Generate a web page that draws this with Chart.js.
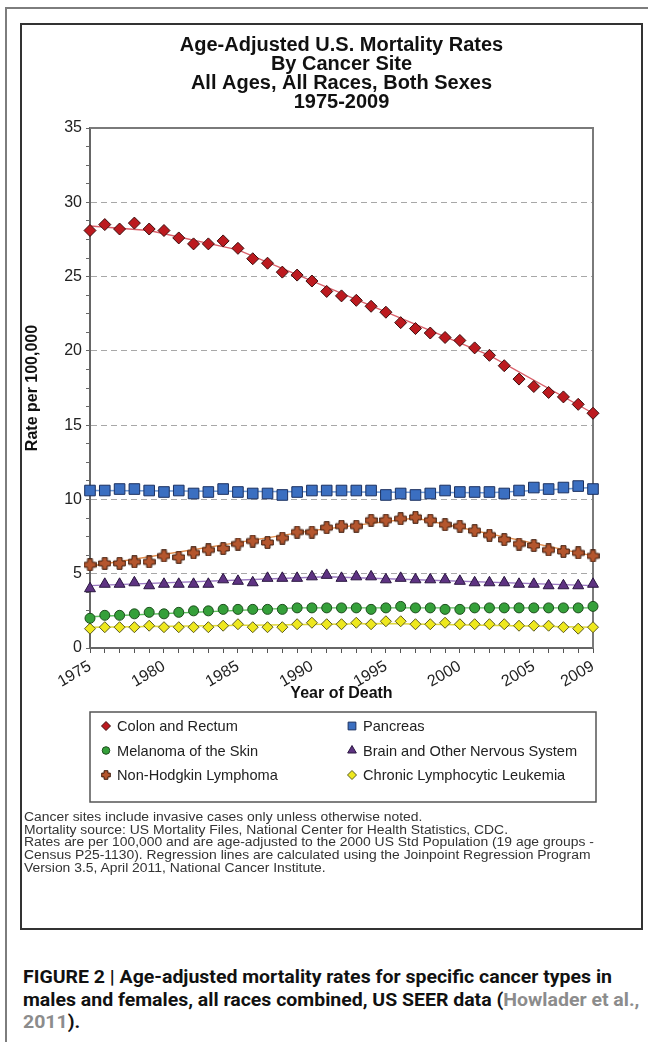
<!DOCTYPE html>
<html>
<head>
<meta charset="utf-8">
<script src="https://cdn.jsdelivr.net/npm/chart.js@4.4.1/dist/chart.umd.min.js"></script>
<style>
  html, body { margin: 0; padding: 0; background: #fff; width: 648px; height: 1042px; overflow: hidden; }
  #page { position: relative; width: 648px; height: 1042px; }
  #outer { position: absolute; left: 5px; top: 7px; width: 720px; height: 1120px; border: 2px solid #7d7d7d; box-sizing: border-box; }
  #panel { position: absolute; left: 20px; top: 23px; width: 623px; height: 907px; border: 2px solid #333; box-sizing: border-box; }
  #wrap { position: absolute; left: 0; top: 0; width: 648px; height: 930px; }
  #notes { position: absolute; left: 24px; top: 811px; font: 12.5px "Liberation Sans", Arial, sans-serif; line-height: 12.7px;
           color: #333; white-space: nowrap; transform-origin: 0 0; }
  #caption { position: absolute; left: 23px; top: 966px; font: bold 18px Roboto, "Liberation Sans", Arial, sans-serif;
             line-height: 22.5px; color: #111; white-space: nowrap; transform-origin: 0 0; }
  #caption .ref { color: #8c8c8c; }
</style>
</head>
<body>
<div id="page">
  <div id="outer"></div>
  <div id="panel"></div>
  <div id="wrap"><canvas id="chart"></canvas></div>
  <div id="notes">
    <div>Cancer sites include invasive cases only unless otherwise noted.</div>
    <div id="noteWide">Mortality source: US Mortality Files, National Center for Health Statistics, CDC.</div>
    <div>Rates are per 100,000 and are age-adjusted to the 2000 US Std Population (19 age groups -</div>
    <div>Census P25-1130). Regression lines are calculated using the Joinpoint Regression Program</div>
    <div>Version 3.5, April 2011, National Cancer Institute.</div>
  </div>
  <div id="caption">
    <div id="capFirst">FIGURE 2 | Age-adjusted mortality rates for specific cancer types in</div>
    <div>males and females, all races combined, US SEER data (<span class="ref">Howlader et al.,</span></div>
    <div><span class="ref">2011</span>).</div>
  </div>
</div>
<script>
// Years of death and rates per 100,000 (age-adjusted)
const years = [1975, 1976, 1977, 1978, 1979, 1980, 1981, 1982, 1983, 1984, 1985, 1986,
               1987, 1988, 1989, 1990, 1991, 1992, 1993, 1994, 1995, 1996, 1997, 1998,
               1999, 2000, 2001, 2002, 2003, 2004, 2005, 2006, 2007, 2008, 2009];
const xTickYears = [1975, 1980, 1985, 1990, 1995, 2000, 2005, 2009];
const yTickValues = [0, 5, 10, 15, 20, 25, 30, 35];

const colonRectum = [28.1, 28.5, 28.2, 28.6, 28.2, 28.1, 27.6, 27.2, 27.2, 27.4, 26.9, 26.2,
                     25.9, 25.3, 25.1, 24.7, 24.0, 23.7, 23.4, 23.0, 22.6, 21.9, 21.5, 21.2,
                     20.9, 20.7, 20.2, 19.7, 19.0, 18.1, 17.6, 17.2, 16.9, 16.4, 15.8];
const pancreas = [10.6, 10.6, 10.7, 10.7, 10.6, 10.5, 10.6, 10.4, 10.5, 10.7, 10.5, 10.4,
                  10.4, 10.3, 10.5, 10.6, 10.6, 10.6, 10.6, 10.6, 10.3, 10.4, 10.3, 10.4,
                  10.6, 10.5, 10.5, 10.5, 10.4, 10.6, 10.8, 10.7, 10.8, 10.9, 10.7];
const melanoma = [2.0, 2.2, 2.2, 2.3, 2.4, 2.3, 2.4, 2.5, 2.5, 2.6, 2.6, 2.6,
                  2.6, 2.6, 2.7, 2.7, 2.7, 2.7, 2.7, 2.6, 2.7, 2.8, 2.7, 2.7,
                  2.6, 2.6, 2.7, 2.7, 2.7, 2.7, 2.7, 2.7, 2.7, 2.7, 2.8];
const brainNervous = [4.0, 4.3, 4.3, 4.4, 4.2, 4.3, 4.3, 4.3, 4.3, 4.6, 4.5, 4.4,
                      4.7, 4.7, 4.7, 4.8, 4.9, 4.7, 4.8, 4.8, 4.6, 4.7, 4.6, 4.6,
                      4.6, 4.5, 4.4, 4.4, 4.4, 4.3, 4.3, 4.2, 4.2, 4.2, 4.3];
const nonHodgkin = [5.6, 5.7, 5.7, 5.8, 5.8, 6.2, 6.1, 6.4, 6.6, 6.7, 7.0, 7.2,
                    7.1, 7.4, 7.8, 7.8, 8.1, 8.2, 8.2, 8.6, 8.6, 8.7, 8.8, 8.6,
                    8.3, 8.2, 7.9, 7.6, 7.3, 7.0, 6.9, 6.6, 6.5, 6.4, 6.2];
const chronicLL = [1.3, 1.4, 1.4, 1.4, 1.5, 1.4, 1.4, 1.4, 1.4, 1.5, 1.6, 1.4,
                   1.4, 1.4, 1.6, 1.7, 1.6, 1.6, 1.7, 1.6, 1.8, 1.8, 1.6, 1.6,
                   1.7, 1.6, 1.6, 1.6, 1.6, 1.5, 1.5, 1.5, 1.4, 1.3, 1.4];

// Joinpoint regression segments (joinpoint years and fitted rates)
const colonFitYears = [1975, 1979, 1985, 2002, 2009];
const colonFit = [28.4, 28.1, 26.8, 19.7, 15.8];
const pancreasFitYears = [1975, 2002, 2009];
const pancreasFit = [10.6, 10.45, 10.8];
const melanomaFitYears = [1975, 1989, 2009];
const melanomaFit = [2.1, 2.7, 2.7];
const brainFitYears = [1975, 1991, 2009];
const brainFit = [4.2, 4.8, 4.2];
const nhlFitYears = [1975, 1990, 1997, 2009];
const nhlFit = [5.5, 7.9, 8.75, 6.2];
const cllFitYears = [1975, 1995, 2009];
const cllFit = [1.4, 1.65, 1.4];

const FONT = '"Liberation Sans", Arial, Helvetica, sans-serif';

// Filled plus-shaped marker
function plusMarker(size, fill, stroke) {
  const c = document.createElement('canvas');
  c.width = size; c.height = size;
  const g = c.getContext('2d');
  const m = size / 2, L = size / 2 - 0.7, t = size * 0.19;
  g.beginPath();
  g.moveTo(m - t, m - L); g.lineTo(m + t, m - L); g.lineTo(m + t, m - t);
  g.lineTo(m + L, m - t); g.lineTo(m + L, m + t); g.lineTo(m + t, m + t);
  g.lineTo(m + t, m + L); g.lineTo(m - t, m + L); g.lineTo(m - t, m + t);
  g.lineTo(m - L, m + t); g.lineTo(m - L, m - t); g.lineTo(m - t, m - t);
  g.closePath();
  g.fillStyle = fill; g.fill();
  g.lineWidth = 1; g.strokeStyle = stroke; g.stroke();
  return c;
}

const toPoints = vals => years.map((yr, i) => ({ x: yr, y: vals[i] }));
const toFit = (xs, vals) => xs.map((yr, i) => ({ x: yr, y: vals[i] }));

function series(label, vals, style, radius, fill, stroke, legendStyle, legendRadius) {
  return {
    label, data: toPoints(vals), showLine: false, order: 0, clip: false,
    pointStyle: style, pointRadius: radius, pointHoverRadius: radius,
    pointBackgroundColor: fill, pointBorderColor: stroke, pointBorderWidth: 1,
    backgroundColor: fill, borderColor: stroke,
    legendStyle: legendStyle || style, legendRadius
  };
}
function fitLine(xs, vals, color) {
  return {
    label: '', isFit: true, data: toFit(xs, vals), showLine: true, order: 1, clip: false,
    borderColor: color, borderWidth: 1.4, pointRadius: 0, pointHoverRadius: 0, tension: 0
  };
}

const datasets = [
  series('Colon and Rectum', colonRectum, 'rectRot', 6, '#bc1a1f', '#3b0d0d', 'rectRot', 4.5),
  series('Pancreas', pancreas, 'rect', 7.5, '#3b6fc1', '#1c3160', 'rect', 5.5),
  series('Melanoma of the Skin', melanoma, 'circle', 5, '#35a03a', '#1e4d1e', 'circle', 3.8),
  series('Brain and Other Nervous System', brainNervous, 'triangle', 6.3, '#5e3382', '#2a1640', 'triangle', 5),
  series('Non-Hodgkin Lymphoma', nonHodgkin, plusMarker(13, '#b4562e', '#3d1a0a'), 6.5, '#b4562e', '#3d1a0a',
         plusMarker(10, '#b4562e', '#3d1a0a'), 5),
  series('Chronic Lymphocytic Leukemia', chronicLL, 'rectRot', 5.5, '#eee81e', '#5a5a20', 'rectRot', 4.5),
  fitLine(colonFitYears, colonFit, '#d9606a'),
  fitLine(pancreasFitYears, pancreasFit, '#6f9ad6'),
  fitLine(melanomaFitYears, melanomaFit, '#5cbf5c'),
  fitLine(brainFitYears, brainFit, '#9a78c0'),
  fitLine(nhlFitYears, nhlFit, '#e08a4a'),
  fitLine(cllFitYears, cllFit, '#e0d83a')
];

// Plot frame: top and right edges of the plotting area
const plotFrame = {
  id: 'plotFrame',
  beforeDatasetsDraw(chart) {
    const { ctx, chartArea: a } = chart;
    ctx.save();
    ctx.strokeStyle = '#7a7a7a';
    ctx.lineWidth = 2;
    ctx.beginPath();
    ctx.moveTo(a.left, a.top); ctx.lineTo(a.right, a.top); ctx.lineTo(a.right, a.bottom);
    ctx.stroke();
    ctx.restore();
  }
};

// Boxed two-column legend below the x axis
const boxedLegend = {
  id: 'boxedLegend',
  afterDraw(chart) {
    const { ctx, chartArea: a } = chart;
    const top = chart.scales.x.bottom + 4;
    const left = a.left, right = a.right + 3, height = 90;
    ctx.save();
    ctx.strokeStyle = '#555';
    ctx.lineWidth = 1.5;
    ctx.strokeRect(left, top, right - left, height);
    ctx.font = '14.6px ' + FONT;
    ctx.textBaseline = 'middle';
    ctx.textAlign = 'left';
    const items = chart.data.datasets.filter(d => !d.isFit);
    items.forEach((d, i) => {
      const col = i % 2, row = Math.floor(i / 2);
      const mx = col ? left + 262 : left + 16;
      const my = top + 14 + row * 24.5;
      ctx.fillStyle = d.pointBackgroundColor;
      ctx.strokeStyle = d.pointBorderColor;
      ctx.lineWidth = 1;
      Chart.helpers.drawPoint(ctx, { pointStyle: d.legendStyle, rotation: 0, radius: d.legendRadius, borderWidth: 1 }, mx, my);
      ctx.fillStyle = '#222';
      ctx.fillText(d.label, mx + 11, my + 1);
    });
    ctx.restore();
  }
};

new Chart(document.getElementById('chart'), {
  type: 'line',
  data: { datasets },
  options: {
    responsive: true,
    maintainAspectRatio: false,
    animation: false,
    events: [],
    layout: { padding: { left: 21, right: 55, top: 24, bottom: 222 } },
    plugins: {
      legend: { display: false },
      tooltip: { enabled: false },
      title: {
        display: true,
        fullSize: false,
        text: ['Age-Adjusted U.S. Mortality Rates', 'By Cancer Site', 'All Ages, All Races, Both Sexes', '1975-2009'],
        color: '#111',
        font: { family: FONT, size: 20, weight: 'bold', lineHeight: '19px' },
        padding: { top: 11.5, bottom: 16.5 }
      }
    },
    scales: {
      x: {
        type: 'linear',
        min: years[0],
        max: years[years.length - 1],
        afterFit(scale) { scale.height = 60; },
        ticks: {
          stepSize: 1,
          autoSkip: false,
          minRotation: 30,
          maxRotation: 30,
          padding: 4,
          color: '#222',
          font: { family: FONT, size: 16 },
          callback: v => xTickYears.includes(v) ? String(v) : ''
        },
        grid: { drawOnChartArea: false, color: '#555', tickLength: 5, tickWidth: 1 },
        border: { display: true, color: '#666', width: 2 },
        title: {
          display: true, text: 'Year of Death', color: '#111',
          font: { family: FONT, size: 16, weight: 'bold' },
          padding: { top: 0, bottom: 4.4 }
        }
      },
      y: {
        type: 'linear',
        min: yTickValues[0],
        max: yTickValues[yTickValues.length - 1],
        afterFit(scale) { scale.width = 69; },
        ticks: {
          stepSize: 1.25,
          autoSkip: false,
          padding: 4,
          color: '#222',
          font: { family: FONT, size: 16 },
          callback: v => yTickValues.includes(v) ? String(v) : ''
        },
        grid: {
          color: ctx => (yTickValues.includes(ctx.tick.value) && ctx.tick.value > 0 && ctx.tick.value < 35) ? '#a8a8a8' : 'rgba(0,0,0,0)',
          tickColor: '#666',
          tickLength: 4,
          lineWidth: 1
        },
        border: { display: true, color: '#666', width: 2, dash: [6, 4] },
        title: {
          display: true, text: 'Rate per 100,000', color: '#111',
          font: { family: FONT, size: 16, weight: 'bold' },
          padding: { top: 2, bottom: 0 }
        }
      }
    }
  },
  plugins: [plotFrame, boxedLegend]
});

// Fit the text blocks to their widths
function fitWidth(blockId, lineId, target) {
  const block = document.getElementById(blockId);
  const line = document.getElementById(lineId);
  const r = document.createRange();
  r.selectNodeContents(line);
  const w = r.getBoundingClientRect().width;
  if (w > 0) block.style.transform = 'scaleX(' + (target / w) + ')';
}
fitWidth('notes', 'noteWide', 484);
fitWidth('caption', 'capFirst', 589);
</script>
</body>
</html>
